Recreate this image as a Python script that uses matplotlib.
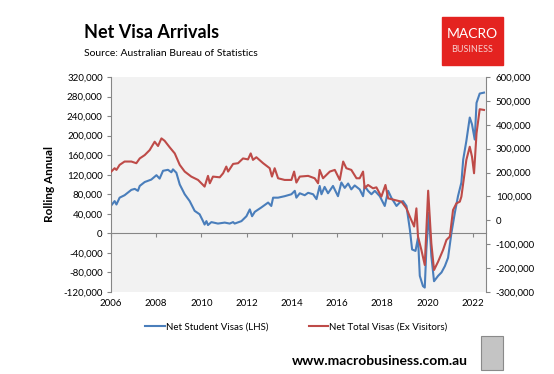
import matplotlib.pyplot as plt
from matplotlib.patches import Rectangle
from matplotlib.ticker import FuncFormatter

plt.rcParams['font.family'] = ['Lato', 'DejaVu Sans']

# rolling annual net student visas (left axis)
student_year = [2006.01, 2006.16, 2006.24, 2006.38, 2006.60, 2006.90, 2007.05, 2007.19, 2007.27,
                2007.49, 2007.78, 2008.01, 2008.15, 2008.30, 2008.52, 2008.67, 2008.74, 2008.89,
                2009.04, 2009.26, 2009.48, 2009.70, 2009.92, 2010.07, 2010.14, 2010.22, 2010.29,
                2010.44, 2010.73, 2011.03, 2011.25, 2011.40, 2011.47, 2011.77, 2011.99, 2012.14,
                2012.24, 2012.36, 2012.65, 2012.95, 2013.09, 2013.17, 2013.39, 2013.68, 2013.98,
                2014.13, 2014.20, 2014.35, 2014.57, 2014.72, 2014.94, 2015.09, 2015.23, 2015.31,
                2015.45, 2015.60, 2015.82, 2016.04, 2016.19, 2016.34, 2016.49, 2016.63, 2016.78,
                2017.00, 2017.15, 2017.22, 2017.37, 2017.52, 2017.67, 2017.89, 2018.11, 2018.26,
                2018.40, 2018.63, 2018.77, 2018.92, 2019.07, 2019.22, 2019.32, 2019.47, 2019.58,
                2019.66, 2019.80, 2019.88, 2019.95, 2020.06, 2020.17, 2020.29, 2020.47, 2020.62,
                2020.77, 2020.91, 2021.06, 2021.21, 2021.35, 2021.50, 2021.58, 2021.72, 2021.87,
                2021.97, 2022.09, 2022.17, 2022.31, 2022.50]
student = [57, 66, 59, 73, 78, 89, 91, 87, 97,
           105, 110, 119, 112, 128, 130, 125, 131, 124,
           100, 80, 66, 46, 39, 25, 18, 25, 17,
           23, 20, 22, 20, 23, 20, 25, 35, 49,
           35, 44, 53, 63, 56, 73, 73, 76, 80,
           87, 73, 82, 78, 83, 80, 70, 97, 80,
           95, 82, 97, 76, 104, 93, 102, 90, 98,
           90, 76, 97, 87, 80, 87, 76, 56, 87,
           73, 56, 63, 66, 56, 8, -33, -36, -9,
           -87, -108, -111, -33, 42, -46, -98, -87, -80,
           -67, -50, 1, 42, 76, 104, 151, 189, 237,
           223, 192, 267, 286, 288]

# rolling annual net total visas ex visitors (right axis)
total_year = [2006.01, 2006.16, 2006.24, 2006.38, 2006.60, 2006.90, 2007.12, 2007.27, 2007.49,
              2007.71, 2007.93, 2008.08, 2008.23, 2008.37, 2008.60, 2008.82, 2009.04, 2009.26,
              2009.55, 2009.85, 2010.07, 2010.14, 2010.29, 2010.37, 2010.51, 2010.81, 2010.96,
              2011.10, 2011.18, 2011.40, 2011.62, 2011.84, 2012.06, 2012.18, 2012.28, 2012.43,
              2012.73, 2013.02, 2013.12, 2013.24, 2013.39, 2013.68, 2013.98, 2014.10, 2014.20,
              2014.35, 2014.72, 2015.01, 2015.16, 2015.23, 2015.38, 2015.53, 2015.68, 2015.90,
              2016.12, 2016.27, 2016.41, 2016.63, 2016.86, 2017.00, 2017.15, 2017.22, 2017.37,
              2017.59, 2017.74, 2017.96, 2018.14, 2018.26, 2018.55, 2018.85, 2019.07, 2019.22,
              2019.41, 2019.51, 2019.58, 2019.73, 2019.88, 2020.03, 2020.17, 2020.29, 2020.47,
              2020.69, 2020.84, 2020.99, 2021.13, 2021.28, 2021.43, 2021.50, 2021.72, 2021.87,
              2021.97, 2022.06, 2022.17, 2022.31, 2022.50]
total = [204, 218, 211, 232, 246, 246, 239, 259, 273,
         294, 329, 311, 343, 333, 305, 280, 232, 204,
         183, 169, 148, 141, 186, 155, 183, 180, 197,
         225, 204, 236, 239, 259, 255, 280, 253, 264,
         239, 218, 183, 218, 176, 169, 169, 204, 158,
         183, 186, 176, 155, 211, 176, 190, 204, 211,
         169, 246, 218, 211, 176, 176, 204, 134, 148,
         134, 138, 99, 148, 92, 85, 78, 50, 15,
         -26, 50, -68, -124, -187, 124, -96, -208, -173,
         -124, -82, -68, 43, 71, 78, 99, 253, 308,
         266, 197, 364, 465, 462]

year_ticks = [2006, 2008, 2010, 2012, 2014, 2016, 2018, 2020, 2022]
left_ticks = list(range(-120000, 320001, 40000))
right_ticks = list(range(-300000, 600001, 100000))

blue = '#4a7ebb'
red = '#be4b48'
grey = '#868686'

fig = plt.figure(figsize=(5.54, 3.74), dpi=100)
ax = fig.add_axes([0.2004, 0.2193, 0.6769, 0.5749])
ax.set_facecolor('#f2f2f2')

ax.plot(student_year, [v * 1000 for v in student], color=blue, lw=1.5)
ax.set_xlim(2006, 2022.59)
ax.set_ylim(left_ticks[0], left_ticks[-1])
ax.set_yticks(left_ticks)
ax.yaxis.set_major_formatter(FuncFormatter(lambda v, p: f'{v:,.0f}'))
ax.set_xticks(year_ticks)
ax.set_xticklabels([str(y) for y in year_ticks])
ax.tick_params(axis='x', length=0, pad=5, labelsize=7)
ax.tick_params(axis='y', length=3, color=grey, pad=3, labelsize=7)
for s in ['top', 'bottom', 'right']:
    ax.spines[s].set_visible(False)
ax.spines['left'].set_color(grey)
ax.set_ylabel('Rolling Annual', fontsize=8.5, weight='bold', labelpad=6)

# horizontal axis line sits at zero with its tick marks
zero_pos = -left_ticks[0] / (left_ticks[-1] - left_ticks[0])
sec = ax.secondary_xaxis(zero_pos)
sec.set_xticks(year_ticks)
sec.set_xticklabels([])
sec.tick_params(length=3, color=grey, direction='out')
sec.spines['bottom'].set_color(grey)

ax2 = ax.twinx()
ax2.plot(total_year, [v * 1000 for v in total], color=red, lw=1.5)
ax2.set_ylim(right_ticks[0], right_ticks[-1])
ax2.set_yticks(right_ticks)
ax2.yaxis.set_major_formatter(FuncFormatter(lambda v, p: f'{v:,.0f}'))
ax2.tick_params(axis='y', length=3, color=grey, pad=4, labelsize=7)
for s in ['top', 'bottom', 'left']:
    ax2.spines[s].set_visible(False)
ax2.spines['right'].set_color(grey)

# legend below the plot
h1, = ax.plot([], [], color=blue, lw=1.5)
h2, = ax.plot([], [], color=red, lw=1.5)
fig.legend([h1, h2], ['Net Student Visas (LHS)', 'Net Total Visas (Ex Visitors)'],
           loc='center', bbox_to_anchor=(0.535, 1 - 327 / 374), ncol=2, frameon=False,
           fontsize=7, handlelength=2.0, handletextpad=0.1, columnspacing=4.2)

fig.text(152 / 554, 1 - 33 / 374, 'Net Visa Arrivals', fontsize=13, weight='bold',
         ha='center', va='center')
fig.text(84 / 554, 1 - 53 / 374, 'Source: Australian Bureau of Statistics', fontsize=7.5,
         ha='left', va='center')

# MACRO BUSINESS badge
fig.patches.append(Rectangle((442 / 554, 1 - 65 / 374), 61 / 554, 48 / 374,
                             transform=fig.transFigure, color='#e42320', zorder=0))
fig.text(472 / 554, 1 - 34 / 374, 'MACRO', color='white', fontsize=10,
         ha='center', va='center')
fig.text(472 / 554, 1 - 50 / 374, 'BUSINESS', color='#f7d0d0', fontsize=6.5,
         ha='center', va='center')

fig.text(468 / 554, 1 - 361 / 374, 'www.macrobusiness.com.au', fontsize=10,
         weight='bold', ha='right', va='center')
fig.patches.append(Rectangle((481 / 554, 1 - 370 / 374), 22 / 554, 34 / 374,
                             transform=fig.transFigure, facecolor='#c4c4c4',
                             edgecolor='#8a8a8a', lw=0.8))

fig.savefig('out.png', dpi=100)
